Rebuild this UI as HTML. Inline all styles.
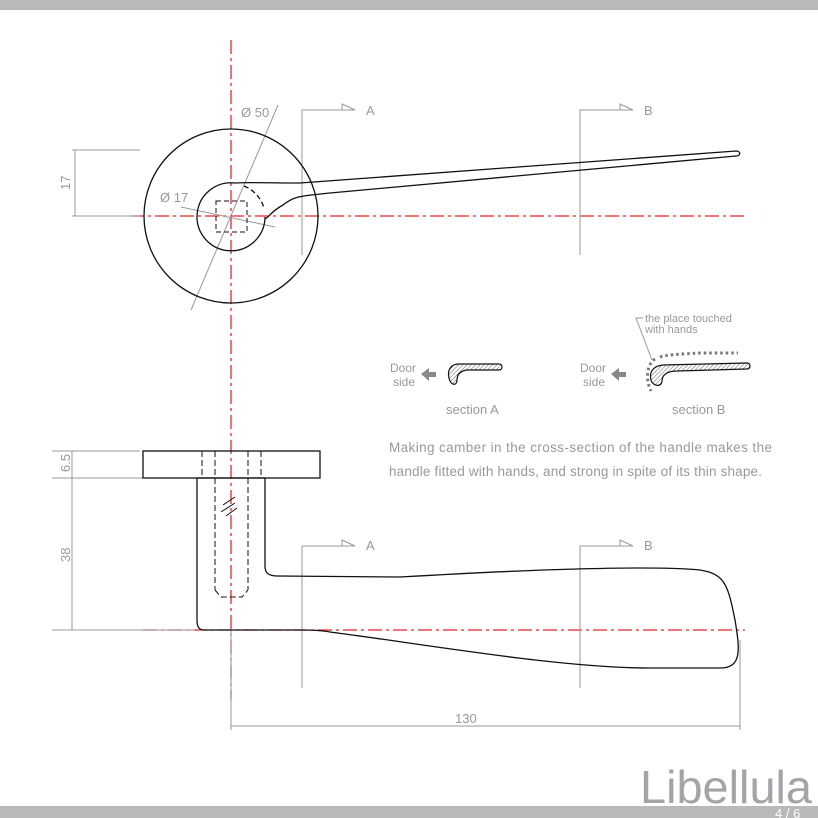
<!DOCTYPE html>
<html><head><style>body{margin:0;background:#fff}svg{display:block}text{font-family:"Liberation Sans",sans-serif}</style></head><body>
<svg width="818" height="818" viewBox="0 0 818 818" xmlns="http://www.w3.org/2000/svg">
<rect x="0" y="0" width="818" height="10" fill="#b9b9bc"/>
<rect x="0" y="806" width="818" height="12" fill="#b9b9bc"/>
<text x="640" y="803" font-size="46" fill="#a4a4a8" textLength="172" lengthAdjust="spacingAndGlyphs">Libellula</text>
<text x="775" y="818" font-size="13" fill="#fff">4 / 6</text>
<defs><pattern id="h" width="3" height="3" patternUnits="userSpaceOnUse" patternTransform="rotate(45)"><line x1="0" y1="0" x2="0" y2="3" stroke="#666" stroke-width="1"/></pattern></defs>
<g stroke="#e8252b" stroke-width="1.3" fill="none" stroke-dasharray="14,4,3,4">
<line x1="231" y1="40" x2="231" y2="700"/>
<line x1="130" y1="216" x2="745" y2="216"/>
<line x1="143" y1="630" x2="745" y2="630"/>
</g>
<g stroke="#999" stroke-width="1" fill="none">
<line x1="72" y1="150" x2="140" y2="150"/><line x1="72" y1="216" x2="140" y2="216"/><line x1="75" y1="150" x2="75" y2="216"/>
<line x1="52" y1="451" x2="140" y2="451"/><line x1="52" y1="478" x2="195" y2="478"/><line x1="52" y1="630" x2="195" y2="630"/><line x1="72" y1="451" x2="72" y2="630"/>
<line x1="231" y1="630" x2="231" y2="730"/><line x1="740" y1="640" x2="740" y2="730"/><line x1="231" y1="726" x2="740" y2="726"/>
<line x1="278" y1="105" x2="191" y2="310"/>
<line x1="181" y1="207" x2="275" y2="227"/>
<path d="M302 255V110H355M580 255V110H633M302 688V546H355M580 688V546H633"/>
<path d="M342 104L355 110L342 110ZM620 104L633 110L620 110ZM342 540L355 546L342 546ZM620 540L633 546L620 546Z"/>
<path d="M643 318H636L652 360"/>
</g>
<g fill="#999" font-size="13">
<text x="241" y="117">Ø 50</text><text x="160" y="202">Ø 17</text>
<text x="366" y="115">A</text><text x="644" y="115">B</text><text x="366" y="550">A</text><text x="644" y="550">B</text>
<text x="455" y="723">130</text>
<text transform="translate(70,190) rotate(-90)">17</text>
<text transform="translate(70,472) rotate(-90)">6.5</text>
<text transform="translate(70,562) rotate(-90)">38</text>
<text x="390" y="372" font-size="12">Door</text><text x="393" y="386" font-size="12">side</text>
<text x="580" y="372" font-size="12">Door</text><text x="583" y="386" font-size="12">side</text>
<text x="446" y="414">section A</text><text x="672" y="414">section B</text>
<text x="645" y="322" font-size="11">the place touched</text><text x="645" y="333" font-size="11">with hands</text>
<text x="389" y="452" font-size="13.5" textLength="383">Making camber in the cross-section of the handle makes the</text>
<text x="389" y="476" font-size="13.5" textLength="373">handle fitted with hands, and strong in spite of its thin shape.</text>
</g>
<path d="M421 374l8-6v4h7v5h-7v4z" fill="#888"/><path d="M611 374l8-6v4h7v5h-7v4z" fill="#888"/>
<path d="M449 378c-2-8 2-14 10-14h40c4 0 4 6 0 6h-30c-8 0-12 4-12 10c0 6-6 6-8-2z" fill="url(#h)" stroke="#111" stroke-width="1.2"/>
<path d="M651 380c-2-8 2-14 12-15l84-2c4 0 4 6 0 6l-70 2c-10 0-15 4-15 10c0 6-9 6-11-1z" fill="url(#h)" stroke="#111" stroke-width="1.2"/>
<path d="M660 357c5-2 20-3 40-4h38M655 359c-8 5-10 20-4 32" stroke="#777" stroke-width="3" stroke-dasharray="2.5,3" fill="none"/>
<g stroke="#111" stroke-width="1.3" fill="none">
<circle cx="231" cy="216" r="87"/>
<path d="M235 183C250 182 265 183 300 183L736 151C741 151 741 156 736 156L330 193C300 196 294 196 283 205C270 212 267 220 265 218A34 34 0 1 1 235 183Z"/>
<path d="M244 186A34 34 0 0 1 264 208" stroke-dasharray="5,3"/>
<rect x="216" y="201" width="31" height="31" stroke-dasharray="5,3" stroke-width="1"/>
<rect x="143" y="451" width="177" height="27"/>
<path d="M197 478H265V566C265 573 268 576 278 576L400 577C520 570 650 565 700 570C725 574 728 585 735 620C740 650 742 668 720 668L650 668C560 668 430 645 330 632C320 630 310 630 300 630H204C199 630 197 627 197 620Z"/>
<g stroke-dasharray="6,3" stroke-width="1"><path d="M202 451V478M215 451V590M248 451V590M261 451V478M215 590L221 597H242L248 590"/></g>
<path d="M223 505l12-8M221 512l14-9M226 516l11-8" stroke-width="1"/>
</g>
</svg>
</body></html>
